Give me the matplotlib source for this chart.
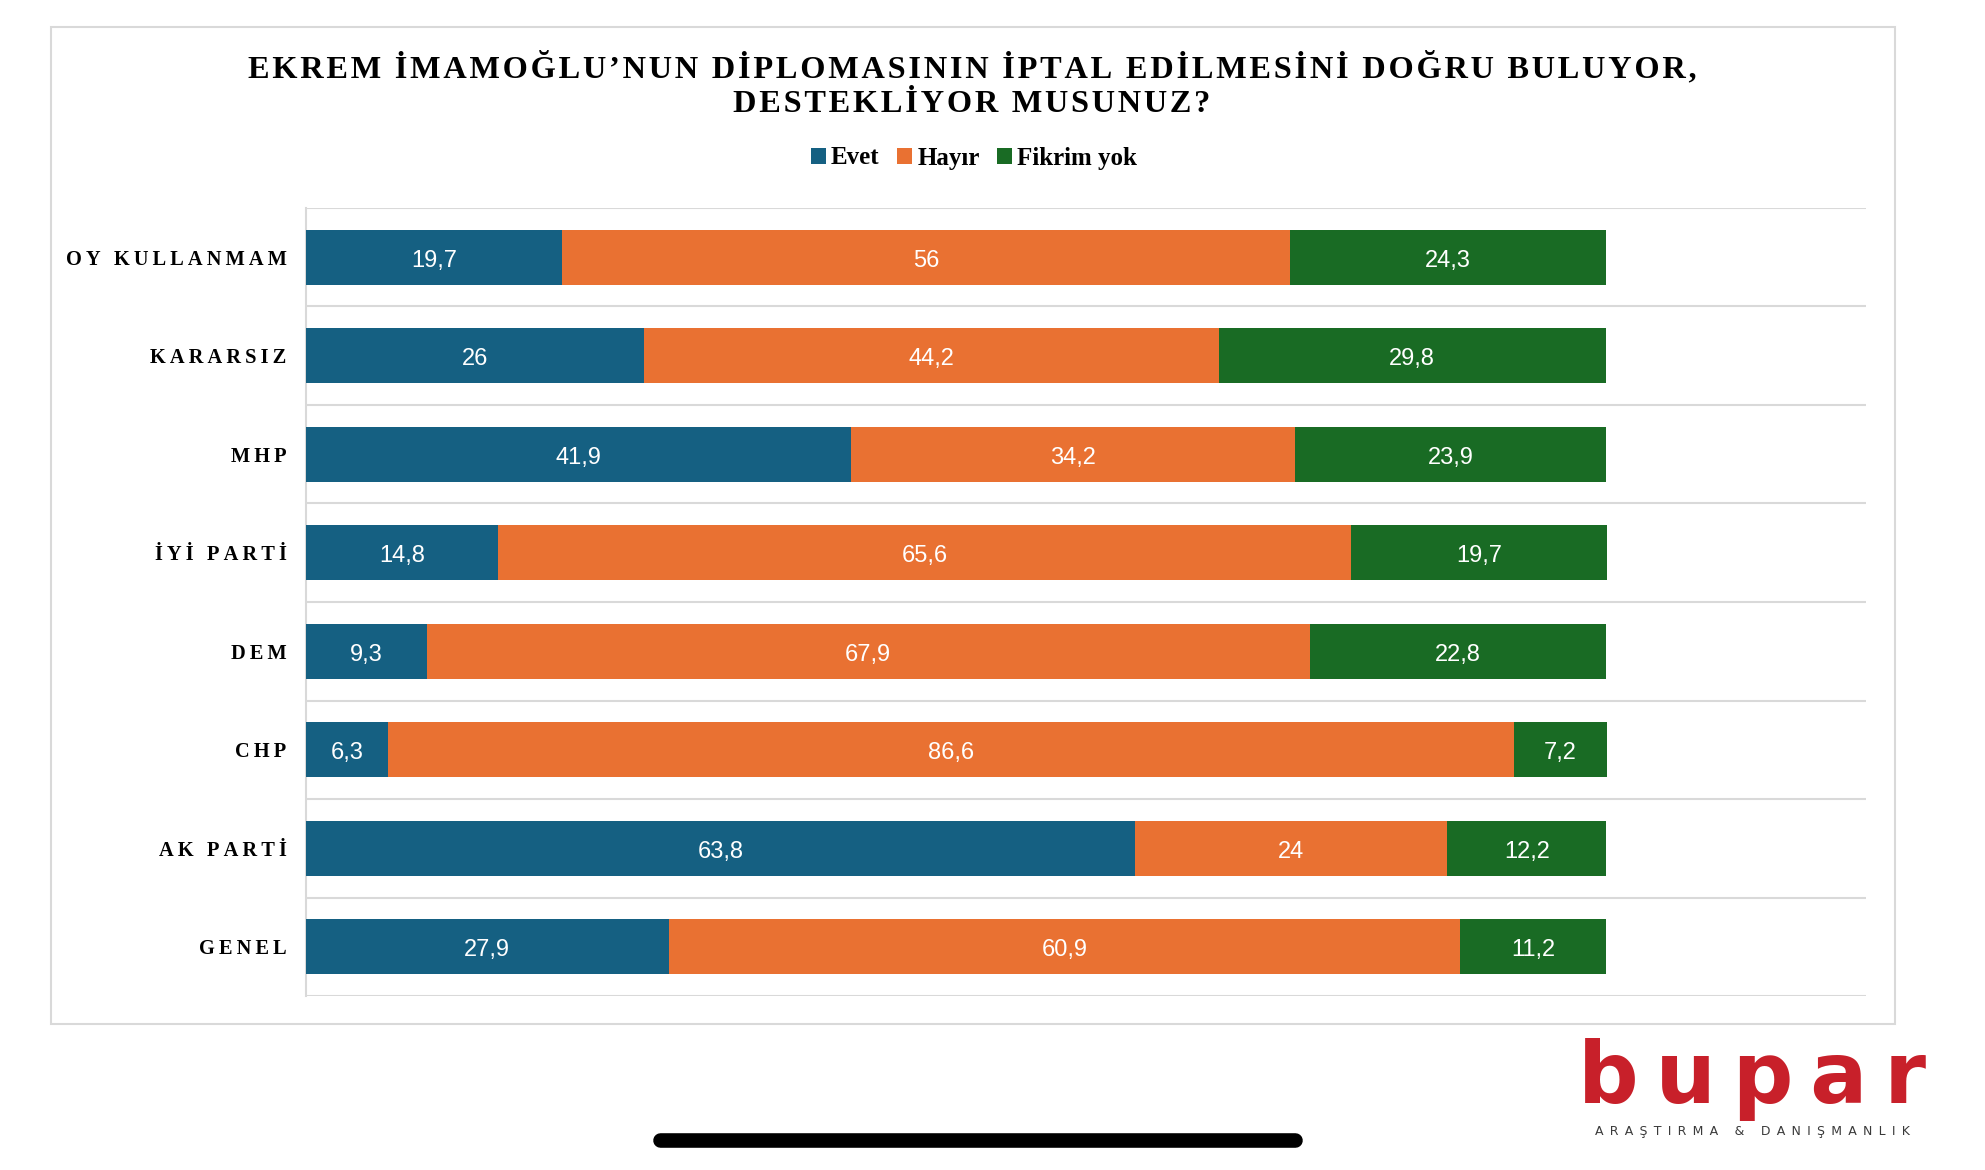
import matplotlib
matplotlib.use("Agg")
import matplotlib.pyplot as plt
from matplotlib.patches import Rectangle
from matplotlib.lines import Line2D
import numpy as np

# data (top to bottom as in the chart)
categories = ["OY KULLANMAM", "KARARSIZ", "MHP", "İYİ PARTİ", "DEM", "CHP", "AK PARTİ", "GENEL"]
evet = [19.7, 26, 41.9, 14.8, 9.3, 6.3, 63.8, 27.9]
hayir = [56, 44.2, 34.2, 65.6, 67.9, 86.6, 24, 60.9]
fikrim_yok = [24.3, 29.8, 23.9, 19.7, 22.8, 7.2, 12.2, 11.2]
series_names = ["Evet", "Hayır", "Fikrim yok"]
colors = ["#156082", "#E97132", "#196B24"]

title_lines = ["EKREM İMAMOĞLU’NUN DİPLOMASININ İPTAL EDİLMESİNİ DOĞRU BULUYOR,",
               "DESTEKLİYOR MUSUNUZ?"]

W, H = 1985, 1170
SERIF = ["Liberation Serif", "DejaVu Serif"]
SANS = ["Liberation Sans", "DejaVu Sans"]


def spaced(s, gap="\u200a"):
    return gap.join(s)


def fmt(v):
    return f"{v:g}".replace(".", ",")


fig = plt.figure(figsize=(W / 100, H / 100), dpi=100)
ax = fig.add_axes([306 / W, (H - 996) / H, (1866 - 306) / W, (996 - 208) / H])

y = np.arange(len(categories))[::-1]
left = np.zeros(len(categories))
bars = []
for vals, name, c in zip([evet, hayir, fikrim_yok], series_names, colors):
    vals = np.array(vals, dtype=float)
    b = ax.barh(y, vals, left=left, height=0.56, color=c, label=name, zorder=3)
    bars.append(b)
    for yi, l, v in zip(y, left, vals):
        ax.annotate(fmt(v), (l + v / 2, yi), xytext=(0, -2.5), textcoords="offset points",
                    ha="center", va="center", color="white",
                    fontsize=17, family=SANS, zorder=4)
    left = left + vals

ax.set_xlim(0, 120)
ax.set_ylim(-0.5, len(categories) - 0.5)
ax.set_xticks([])
ax.set_yticks(y)
ax.set_yticklabels([spaced(c, "\u2009") for c in categories], family=SERIF,
                   fontweight="bold", fontsize=14.7)
ax.set_yticks(np.arange(-0.5, len(categories)), minor=True)
ax.tick_params(axis="y", which="both", length=0, pad=14)
ax.grid(axis="y", which="minor", color="#d9d9d9", linewidth=1.5, zorder=0)
for s in ["top", "right", "bottom"]:
    ax.spines[s].set_visible(False)
ax.spines["left"].set_color("#d9d9d9")
ax.spines["left"].set_linewidth(1.5)

# title
fig.text(972 / W, (H - 68) / H, spaced(title_lines[0]), ha="center", va="center",
         family=SERIF, fontweight="bold", fontsize=23.3)
fig.text(972 / W, (H - 104) / H, spaced(title_lines[1]), ha="center", va="center",
         family=SERIF, fontweight="bold", fontsize=23.3)

# legend
fig.legend(handles=bars, labels=series_names, loc="center",
           bbox_to_anchor=(974 / W, (H - 158) / H), ncol=3, frameon=False,
           handlelength=0.6, handleheight=0.6, handletextpad=0.2, columnspacing=0.7,
           prop={"family": SERIF, "weight": "bold", "size": 18})

# outer frame
fig.patches.append(Rectangle((51 / W, (H - 1024) / H), (1895 - 51) / W, (1024 - 27) / H,
                             transform=fig.transFigure, fill=False,
                             edgecolor="#d9d9d9", linewidth=1.5))

# logo
fig.text(1752 / W, (H - 1103) / H, spaced("bupar", "\u2009"), ha="center", va="baseline",
         color="#C8202A", family=["DejaVu Sans"], fontweight="bold", fontsize=61)
fig.text(1752 / W, (H - 1132) / H, spaced("ARAŞTIRMA & DANIŞMANLIK", "\u2002"),
         ha="center", va="center", color="#3a3a3a", family=["DejaVu Sans"], fontsize=9)

# phone home indicator
fig.add_artist(Line2D([660 / W, 1295 / W], [(H - 1140) / H] * 2, color="black",
                      linewidth=10.5, solid_capstyle="round"))

fig.savefig("out.png", dpi=100, facecolor="white")
